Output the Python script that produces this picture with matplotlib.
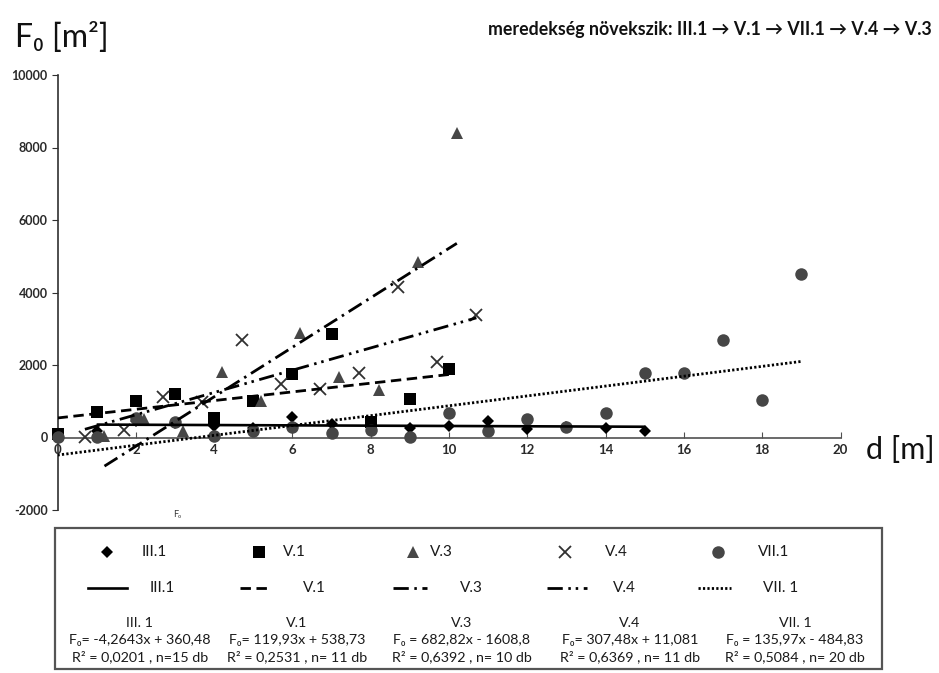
import matplotlib
matplotlib.use("Agg")
import matplotlib.pyplot as plt
from matplotlib.patches import Rectangle

plt.rcParams['font.family'] = ['Lato', 'DejaVu Sans']
plt.rcParams['lines.scale_dashes'] = False

# ---------------- data ----------------
series_names = ["III.1", "V.1", "V.3", "V.4", "VII.1"]

x_III1 = [1, 2, 3, 4, 5, 6, 7, 8, 9, 10, 11, 12, 13, 14, 15]
y_III1 = [190, 450, 400, 330, 250, 560, 360, 330, 260, 330, 450, 240, 300, 275, 190]

x_V1 = [0, 1, 2, 3, 4, 5, 6, 7, 8, 9, 10]
y_V1 = [110, 717, 1020, 1200, 530, 1000, 1755, 2860, 420, 1070, 1895]

x_V3 = [1.2, 2.2, 3.2, 4.2, 5.2, 6.2, 7.2, 8.2, 9.2, 10.2]
y_V3 = [50, 500, 190, 1800, 1020, 2880, 1680, 1310, 4840, 8400]

x_V4 = [0.7, 1.7, 2.7, 3.7, 4.7, 5.7, 6.7, 7.7, 8.7, 9.7, 10.7]
y_V4 = [8, 212, 1131, 975, 2694, 1480, 1343, 1775, 4147, 2080, 3393]

x_VII1 = list(range(0, 20))
y_VII1 = [8, 8, 543, 423, 55, 193, 285, 119, 212, 8, 671, 193, 515, 303, 671,
          1784, 1775, 2676, 1048, 4497]

slopes = [-4.2643, 119.93, 682.82, 307.48, 135.97]
intercepts = [360.48, 538.73, -1608.8, 11.081, -484.83]

x_ticks = [0, 2, 4, 6, 8, 10, 12, 14, 16, 18, 20]
y_ticks = [-2000, 0, 2000, 4000, 6000, 8000, 10000]

marker_labels = ["III.1", "V.1", "V.3", "V.4", "VII.1"]
line_labels = ["III.1", "V.1", "V.3", "V.4", "VII. 1"]
eq_titles = ["III. 1", "V.1", "V.3", "V.4", "VII. 1"]
eq_texts = ["F\u2080= -4,2643x + 360,48", "F\u2080= 119,93x + 538,73",
            "F\u2080 = 682,82x - 1608,8", "F\u2080= 307,48x + 11,081",
            "F\u2080 = 135,97x - 484,83"]
r2_texts = ["R\u00b2 = 0,0201 , n=15 db", "R\u00b2 = 0,2531 , n= 11 db",
            "R\u00b2 = 0,6392 , n= 10 db", "R\u00b2 = 0,6369 , n= 11 db",
            "R\u00b2 = 0,5084 , n= 20 db"]

xs = [x_III1, x_V1, x_V3, x_V4, x_VII1]
ys = [y_III1, y_V1, y_V3, y_V4, y_VII1]

# ---------------- styles ----------------
mstyles = [
    dict(marker='D', color='black', ms=6.5, mec='black', mew=0),
    dict(marker='s', color='black', ms=8, mec='black', mew=0),
    dict(marker='^', color='#474747', ms=8, mec='#474747', mew=0),
    dict(marker='x', color='#303030', ms=8, mec='#303030', mew=1.3),
    dict(marker='o', color='#464646', ms=9, mec='#464646', mew=0),
]
lstyles = [
    dict(ls='-', lw=1.9, color='black'),
    dict(ls=(0, (7.5, 4)), lw=2.0, color='black'),
    dict(ls=(0, (11, 4, 1.8, 4)), lw=2.0, color='black'),
    dict(ls=(0, (11, 4, 1.8, 3.5, 1.8, 4)), lw=2.0, color='black'),
    dict(ls=(0, (1.6, 1.6)), lw=2.0, color='black'),
]

W, H = 939, 673
fig = plt.figure(figsize=(W / 100, H / 100), dpi=100)

x0px, x20px = 57.5, 840.5
ytop, ybot = 75.0, 510.0
ax = fig.add_axes([x0px / W, 1 - ybot / H, (x20px - x0px) / W, (ybot - ytop) / H])
ax.set_xlim(0, 20)
ax.set_ylim(-2000, 10000)

for i in range(5):
    xi, yi = xs[i], ys[i]
    ax.plot(xi, yi, ls='none', zorder=3, clip_on=False, **mstyles[i])
    xa, xb = min(xi), max(xi)
    ax.plot([xa, xb], [slopes[i] * xa + intercepts[i], slopes[i] * xb + intercepts[i]],
            zorder=4, solid_capstyle='butt', dash_capstyle='butt', **lstyles[i])

for s in ['top', 'right']:
    ax.spines[s].set_visible(False)
ax.spines['bottom'].set_position(('data', 0))
ax.spines['bottom'].set_color('#505050')
ax.spines['bottom'].set_linewidth(1.2)
ax.spines['left'].set_color('#303030')
ax.spines['left'].set_linewidth(1.2)
ax.set_xticks(x_ticks)
ax.set_yticks(y_ticks)
ax.set_xticklabels([str(t) for t in x_ticks], fontsize=9.5, color='#2a2a2a', fontweight='bold')
ax.set_yticklabels([str(t) for t in y_ticks], fontsize=9, color='#2a2a2a', fontweight='bold')
ax.tick_params(axis='x', direction='in', length=4, pad=5, color='#505050')
ax.tick_params(axis='y', direction='out', length=4, pad=3, color='#303030')

# ---------------- texts ----------------
fig.text(15 / W, 1 - 37 / H, "F\u2080 [m\u00b2]", fontsize=23, va='center', ha='left', color='#111111')
fig.text(866 / W, 1 - 450 / H, "d [m]", fontsize=22, va='center', ha='left', color='#111111')
fig.text(932 / W, 1 - 30 / H,
         "meredekség növekszik: III.1 \u2192 V.1 \u2192 VII.1 \u2192 V.4 \u2192 V.3",
         fontsize=12.8, fontweight='bold', ha='right', va='center', color='#111111')
fig.text(177 / W, 1 - 515 / H, "F\u2080", fontsize=6.5, ha='center', va='center', color='#333333')

# ---------------- legend (layout in pixel coords) ----------------
lg = fig.add_axes([0, 0, 1, 1])
lg.set_xlim(0, W)
lg.set_ylim(H, 0)
lg.axis('off')
lg.add_patch(Rectangle((55, 528), 827, 141, fill=False, ec='#555555', lw=1.6))

mk_x = [107, 259, 413, 565, 718]
mk_lab_x = [142, 283, 430, 605, 758]
ln_x = [(88, 127), (240, 270), (393, 427), (547, 587), (698, 731)]
ln_lab_x = [150, 303, 460, 613, 763]
eq_cx = [140, 297, 462, 630, 795]
row1, row2 = 552, 588
for i in range(5):
    lg.plot([mk_x[i]], [row1], ls='none', **mstyles[i])
    lg.text(mk_lab_x[i], row1, marker_labels[i], fontsize=11, va='center', ha='left', color='#1a1a1a')
    lg.plot(list(ln_x[i]), [row2, row2], dash_capstyle='butt', **lstyles[i])
    lg.text(ln_lab_x[i], row2, line_labels[i], fontsize=11, va='center', ha='left', color='#1a1a1a')
    lg.text(eq_cx[i], 623, eq_titles[i], fontsize=10.3, va='center', ha='center', color='#1a1a1a')
    lg.text(eq_cx[i], 640, eq_texts[i], fontsize=10.3, va='center', ha='center', color='#1a1a1a')
    lg.text(eq_cx[i], 657, r2_texts[i], fontsize=10.3, va='center', ha='center', color='#1a1a1a')

fig.savefig("out.png", dpi=100)
